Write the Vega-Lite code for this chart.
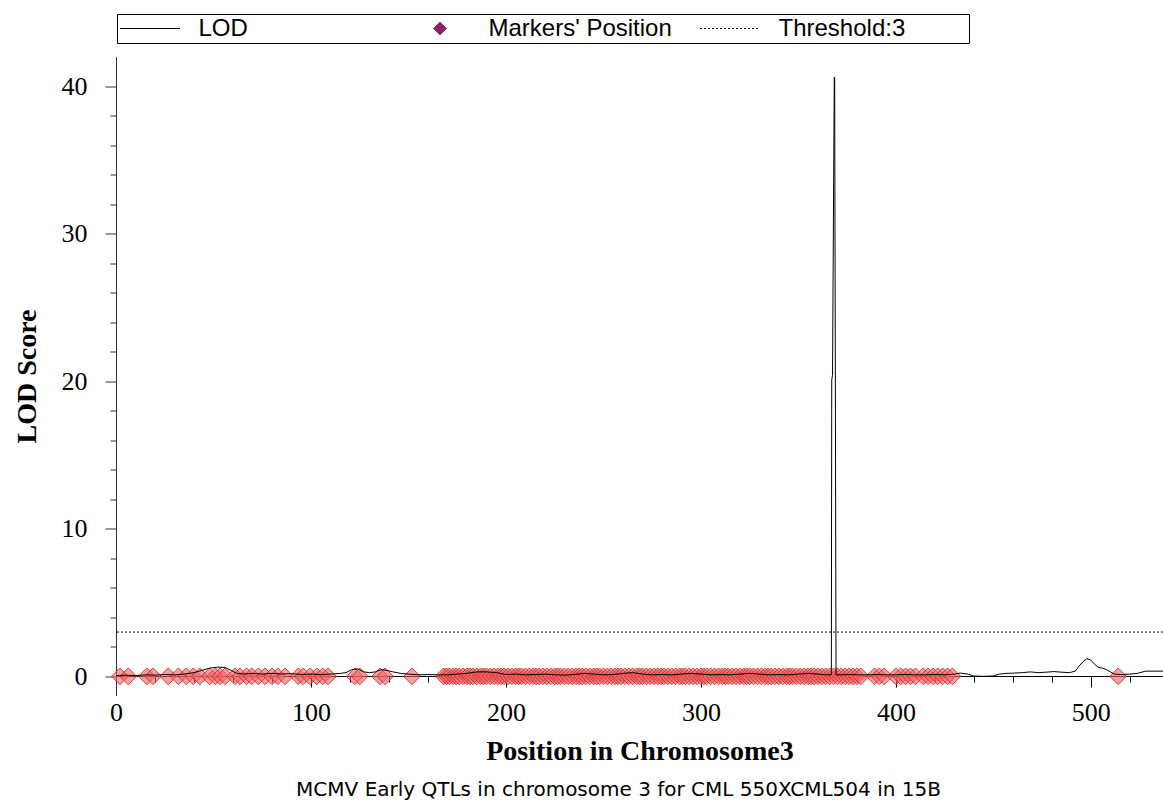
{
  "$schema": "https://vega.github.io/schema/vega-lite/v6.json",
  "width": 1047,
  "height": 639,
  "autosize": {"type": "none"},
  "padding": {"left": 116, "top": 56.5, "right": 0, "bottom": 109.5},
  "background": "white",
  "config": {
    "view": {"stroke": null},
    "legend": {
      "orient": "none",
      "legendX": 1,
      "legendY": -42.5,
      "direction": "horizontal",
      "columns": 3,
      "gridAlign": "all",
      "padding": 2.5,
      "strokeColor": "black",
      "fillColor": "white",
      "symbolSize": 169,
      "symbolStrokeWidth": 1,
      "symbolOpacity": 1,
      "labelFont": "Liberation Sans",
      "labelFontSize": 24,
      "labelColor": "black",
      "labelOffset": 55,
      "labelLimit": 400,
      "columnPadding": 25,
      "titleOrient": "right",
      "titlePadding": 61,
      "titleFontSize": 11
    }
  },
  "title": {
    "text": "MCMV Early QTLs in chromosome 3 for CML 550XCML504 in 15B",
    "orient": "bottom",
    "anchor": "middle",
    "font": "DejaVu Sans",
    "fontSize": 20,
    "fontWeight": "normal",
    "color": "black",
    "offset": 15,
    "dx": -21
  },
  "datasets": {
    "lod": [
      {"pos": 0, "lod": 0.05}, {"pos": 5, "lod": 0.08}, {"pos": 10, "lod": 0.05}, {"pos": 15, "lod": 0.1},
      {"pos": 20, "lod": 0.08}, {"pos": 25, "lod": 0.12}, {"pos": 30, "lod": 0.1}, {"pos": 35, "lod": 0.15},
      {"pos": 40, "lod": 0.25}, {"pos": 44, "lod": 0.4}, {"pos": 48, "lod": 0.55}, {"pos": 52, "lod": 0.62},
      {"pos": 56, "lod": 0.6}, {"pos": 59, "lod": 0.4}, {"pos": 62, "lod": 0.2}, {"pos": 66, "lod": 0.15},
      {"pos": 70, "lod": 0.2}, {"pos": 75, "lod": 0.15}, {"pos": 80, "lod": 0.2}, {"pos": 85, "lod": 0.15},
      {"pos": 90, "lod": 0.18}, {"pos": 95, "lod": 0.12}, {"pos": 100, "lod": 0.15}, {"pos": 105, "lod": 0.12},
      {"pos": 110, "lod": 0.15}, {"pos": 115, "lod": 0.2}, {"pos": 118, "lod": 0.25}, {"pos": 121, "lod": 0.45},
      {"pos": 124, "lod": 0.5}, {"pos": 127, "lod": 0.3}, {"pos": 130, "lod": 0.25}, {"pos": 133, "lod": 0.3},
      {"pos": 136, "lod": 0.45}, {"pos": 139, "lod": 0.4}, {"pos": 142, "lod": 0.3}, {"pos": 146, "lod": 0.2},
      {"pos": 150, "lod": 0.15}, {"pos": 155, "lod": 0.1}, {"pos": 160, "lod": 0.12}, {"pos": 165, "lod": 0.1},
      {"pos": 170, "lod": 0.1}, {"pos": 175, "lod": 0.15}, {"pos": 180, "lod": 0.2}, {"pos": 185, "lod": 0.3},
      {"pos": 190, "lod": 0.3}, {"pos": 195, "lod": 0.25}, {"pos": 200, "lod": 0.12}, {"pos": 205, "lod": 0.15},
      {"pos": 210, "lod": 0.1}, {"pos": 215, "lod": 0.12}, {"pos": 220, "lod": 0.15}, {"pos": 225, "lod": 0.1},
      {"pos": 230, "lod": 0.08}, {"pos": 235, "lod": 0.12}, {"pos": 240, "lod": 0.2}, {"pos": 245, "lod": 0.15},
      {"pos": 250, "lod": 0.1}, {"pos": 255, "lod": 0.12}, {"pos": 260, "lod": 0.2}, {"pos": 265, "lod": 0.25},
      {"pos": 270, "lod": 0.15}, {"pos": 275, "lod": 0.1}, {"pos": 280, "lod": 0.12}, {"pos": 285, "lod": 0.1},
      {"pos": 290, "lod": 0.15}, {"pos": 295, "lod": 0.2}, {"pos": 300, "lod": 0.15}, {"pos": 305, "lod": 0.1},
      {"pos": 310, "lod": 0.12}, {"pos": 315, "lod": 0.1}, {"pos": 320, "lod": 0.15}, {"pos": 325, "lod": 0.2},
      {"pos": 330, "lod": 0.15}, {"pos": 335, "lod": 0.1}, {"pos": 340, "lod": 0.12}, {"pos": 345, "lod": 0.1},
      {"pos": 350, "lod": 0.15}, {"pos": 355, "lod": 0.2}, {"pos": 360, "lod": 0.15}, {"pos": 364, "lod": 0.1},
      {"pos": 366.9, "lod": 0.1}, {"pos": 367.1, "lod": 20.1}, {"pos": 367.5, "lod": 20.4}, {"pos": 368.4, "lod": 40.6},
      {"pos": 368.6, "lod": 40.5}, {"pos": 369.3, "lod": 0.1}, {"pos": 372, "lod": 0.1}, {"pos": 376, "lod": 0.12},
      {"pos": 380, "lod": 0.1}, {"pos": 385, "lod": 0.1}, {"pos": 390, "lod": 0.12}, {"pos": 395, "lod": 0.1},
      {"pos": 400, "lod": 0.1}, {"pos": 405, "lod": 0.12}, {"pos": 410, "lod": 0.1}, {"pos": 415, "lod": 0.1},
      {"pos": 420, "lod": 0.12}, {"pos": 425, "lod": 0.1}, {"pos": 430, "lod": 0.15}, {"pos": 433, "lod": 0.22},
      {"pos": 437, "lod": 0.15}, {"pos": 440, "lod": 0.02}, {"pos": 445, "lod": 0.0}, {"pos": 450, "lod": 0.02},
      {"pos": 453, "lod": 0.15}, {"pos": 457, "lod": 0.2}, {"pos": 461, "lod": 0.22}, {"pos": 465, "lod": 0.25},
      {"pos": 469, "lod": 0.3}, {"pos": 473, "lod": 0.25}, {"pos": 477, "lod": 0.28}, {"pos": 481, "lod": 0.32},
      {"pos": 485, "lod": 0.28}, {"pos": 489, "lod": 0.25}, {"pos": 492, "lod": 0.35}, {"pos": 494, "lod": 0.7},
      {"pos": 496, "lod": 1.0}, {"pos": 498, "lod": 1.2}, {"pos": 500, "lod": 1.1}, {"pos": 502, "lod": 0.8},
      {"pos": 504, "lod": 0.6}, {"pos": 506, "lod": 0.55}, {"pos": 508, "lod": 0.45}, {"pos": 510, "lod": 0.3},
      {"pos": 512, "lod": 0.15}, {"pos": 516, "lod": 0.12}, {"pos": 520, "lod": 0.15}, {"pos": 524, "lod": 0.2},
      {"pos": 528, "lod": 0.35}, {"pos": 532, "lod": 0.35}, {"pos": 537, "lod": 0.35}
    ],
    "markers": [
      {"pos": 2}, {"pos": 6.3}, {"pos": 15.8}, {"pos": 19}, {"pos": 26.8}, {"pos": 32}, {"pos": 36}, {"pos": 39.6},
      {"pos": 43}, {"pos": 48}, {"pos": 51}, {"pos": 53.3}, {"pos": 56}, {"pos": 61}, {"pos": 63.6}, {"pos": 67},
      {"pos": 69.6}, {"pos": 73}, {"pos": 76.4}, {"pos": 80}, {"pos": 83}, {"pos": 86.7}, {"pos": 93.5}, {"pos": 96},
      {"pos": 99.5}, {"pos": 103}, {"pos": 106}, {"pos": 108.8}, {"pos": 122.5}, {"pos": 125}, {"pos": 135.4}, {"pos": 138},
      {"pos": 151.8},
      {"pos": 168}, {"pos": 169.5}, {"pos": 171}, {"pos": 173}, {"pos": 174.5}, {"pos": 176}, {"pos": 178}, {"pos": 180},
      {"pos": 181.5}, {"pos": 183}, {"pos": 185}, {"pos": 187}, {"pos": 188.5}, {"pos": 190}, {"pos": 192}, {"pos": 194},
      {"pos": 196}, {"pos": 197.5}, {"pos": 199}, {"pos": 201}, {"pos": 203}, {"pos": 205}, {"pos": 206.5}, {"pos": 208},
      {"pos": 210}, {"pos": 212}, {"pos": 214}, {"pos": 215.5}, {"pos": 217}, {"pos": 219}, {"pos": 221}, {"pos": 223},
      {"pos": 225}, {"pos": 226.5}, {"pos": 228}, {"pos": 230}, {"pos": 232}, {"pos": 234}, {"pos": 236}, {"pos": 237.5},
      {"pos": 239}, {"pos": 241}, {"pos": 243}, {"pos": 245}, {"pos": 246.5}, {"pos": 248}, {"pos": 250}, {"pos": 252},
      {"pos": 254}, {"pos": 256}, {"pos": 257.5}, {"pos": 259}, {"pos": 261}, {"pos": 263}, {"pos": 265}, {"pos": 267},
      {"pos": 268.5}, {"pos": 270}, {"pos": 272}, {"pos": 274}, {"pos": 276}, {"pos": 278}, {"pos": 279.5}, {"pos": 281},
      {"pos": 283}, {"pos": 285}, {"pos": 287}, {"pos": 289}, {"pos": 290.5}, {"pos": 292}, {"pos": 294}, {"pos": 296},
      {"pos": 298}, {"pos": 300}, {"pos": 301.5}, {"pos": 303}, {"pos": 305}, {"pos": 307}, {"pos": 309}, {"pos": 311},
      {"pos": 312.5}, {"pos": 314}, {"pos": 316}, {"pos": 318}, {"pos": 320}, {"pos": 322}, {"pos": 323.5}, {"pos": 325},
      {"pos": 327}, {"pos": 329}, {"pos": 331}, {"pos": 333}, {"pos": 334.5}, {"pos": 336}, {"pos": 338}, {"pos": 340},
      {"pos": 342}, {"pos": 344}, {"pos": 345.5}, {"pos": 347}, {"pos": 349}, {"pos": 351}, {"pos": 353}, {"pos": 355},
      {"pos": 356.5}, {"pos": 358}, {"pos": 360}, {"pos": 362}, {"pos": 364}, {"pos": 366}, {"pos": 368}, {"pos": 370},
      {"pos": 372}, {"pos": 374}, {"pos": 376}, {"pos": 378}, {"pos": 380}, {"pos": 382},
      {"pos": 389}, {"pos": 391.5}, {"pos": 394}, {"pos": 400}, {"pos": 402.5}, {"pos": 405}, {"pos": 407.5}, {"pos": 410},
      {"pos": 414}, {"pos": 416.5}, {"pos": 419}, {"pos": 421.5}, {"pos": 424}, {"pos": 426.5}, {"pos": 429},
      {"pos": 514}
    ],
    "threshold": [{"threshold": 3}]
  },
  "resolve": {"axis": {"x": "independent", "y": "independent"}},
  "layer": [
    {
      "data": {"name": "threshold"},
      "mark": {"type": "rule", "color": "black", "strokeWidth": 1, "strokeDash": [2, 2]},
      "encoding": {
        "y": {
          "field": "threshold",
          "type": "quantitative",
          "scale": {"domain": [-1.3, 42], "nice": false, "zero": false},
          "axis": {
            "orient": "left",
            "title": null,
            "values": [2, 4, 6, 8, 12, 14, 16, 18, 22, 24, 26, 28, 32, 34, 36, 38],
            "labels": false,
            "domain": false,
            "grid": false,
            "tickSize": 6,
            "tickColor": "#333333"
          }
        }
      }
    },
    {
      "data": {"name": "markers"},
      "mark": {"type": "point", "shape": "diamond", "filled": true, "fill": "#f06464", "fillOpacity": 0.6, "stroke": "#d81e1e", "strokeOpacity": 0.85, "strokeWidth": 1, "size": 280},
      "encoding": {
        "x": {
          "field": "pos",
          "type": "quantitative",
          "scale": {"domain": [0, 537], "nice": false, "zero": false},
          "axis": {
            "orient": "bottom",
            "title": null,
            "values": [20, 40, 60, 80, 120, 140, 160, 180, 220, 240, 260, 280, 320, 340, 360, 380, 420, 440, 460, 480, 520],
            "labels": false,
            "domain": false,
            "grid": false,
            "offset": -19.5,
            "tickSize": 6,
            "tickColor": "black"
          }
        },
        "y": {"datum": 0, "type": "quantitative", "axis": null}
      }
    },
    {
      "data": {"name": "lod"},
      "mark": {"type": "line", "color": "black", "strokeWidth": 1},
      "encoding": {
        "x": {
          "field": "pos",
          "type": "quantitative",
          "scale": {"domain": [0, 537], "nice": false, "zero": false},
          "axis": {
            "orient": "bottom",
            "title": "Position in Chromosome3",
            "values": [0, 100, 200, 300, 400, 500],
            "offset": -19.5,
            "tickSize": 11,
            "labelPadding": 12,
            "labelFont": "Liberation Serif",
            "labelFontSize": 26,
            "labelColor": "black",
            "labelOverlap": false,
            "labelFlush": false,
            "titleFont": "Liberation Serif",
            "titleFontSize": 28,
            "titleFontWeight": "bold",
            "titleColor": "black",
            "titlePadding": 12,
            "domainColor": "black",
            "tickColor": "black",
            "grid": false
          }
        },
        "y": {
          "field": "lod",
          "type": "quantitative",
          "scale": {"domain": [-1.3, 42], "nice": false, "zero": false},
          "axis": {
            "orient": "left",
            "title": "LOD Score",
            "values": [0, 10, 20, 30, 40],
            "tickSize": 11,
            "labelPadding": 18,
            "labelFont": "Liberation Serif",
            "labelFontSize": 26,
            "labelColor": "black",
            "labelOverlap": false,
            "labelFlush": false,
            "titleFont": "Liberation Serif",
            "titleFontSize": 28,
            "titleFontWeight": "bold",
            "titleColor": "black",
            "titlePadding": 20,
            "domainColor": "#333333",
            "tickColor": "#333333",
            "grid": false
          }
        }
      }
    },
    {
      "data": {"name": "threshold"},
      "transform": [{"filter": "false"}],
      "mark": {"type": "point", "opacity": 1},
      "encoding": {
        "shape": {
          "datum": "LOD",
          "scale": {"domain": ["LOD", "Markers", "Threshold:3"], "range": ["M-1.769,0H7.462", "M2.846,-1L3.846,0L2.846,1L1.846,0Z", "M-1.769,0H7.462"]},
          "legend": {"title": "\u00a0", "labelExpr": "datum.label === 'Markers' ? \"Markers' Position\" : datum.label"}
        },
        "fill": {
          "datum": "LOD",
          "scale": {"domain": ["LOD", "Markers", "Threshold:3"], "range": ["transparent", "#8f1f6b", "transparent"]},
          "legend": {"title": "\u00a0", "labelExpr": "datum.label === 'Markers' ? \"Markers' Position\" : datum.label"}
        },
        "stroke": {
          "datum": "LOD",
          "scale": {"domain": ["LOD", "Markers", "Threshold:3"], "range": ["black", "#8f1f6b", "black"]},
          "legend": {"title": "\u00a0", "labelExpr": "datum.label === 'Markers' ? \"Markers' Position\" : datum.label"}
        },
        "strokeDash": {
          "datum": "LOD",
          "scale": {"domain": ["LOD", "Markers", "Threshold:3"], "range": [[1, 0], [1, 0], [2, 2]]},
          "legend": {"title": "\u00a0", "labelExpr": "datum.label === 'Markers' ? \"Markers' Position\" : datum.label"}
        }
      }
    }
  ]
}
